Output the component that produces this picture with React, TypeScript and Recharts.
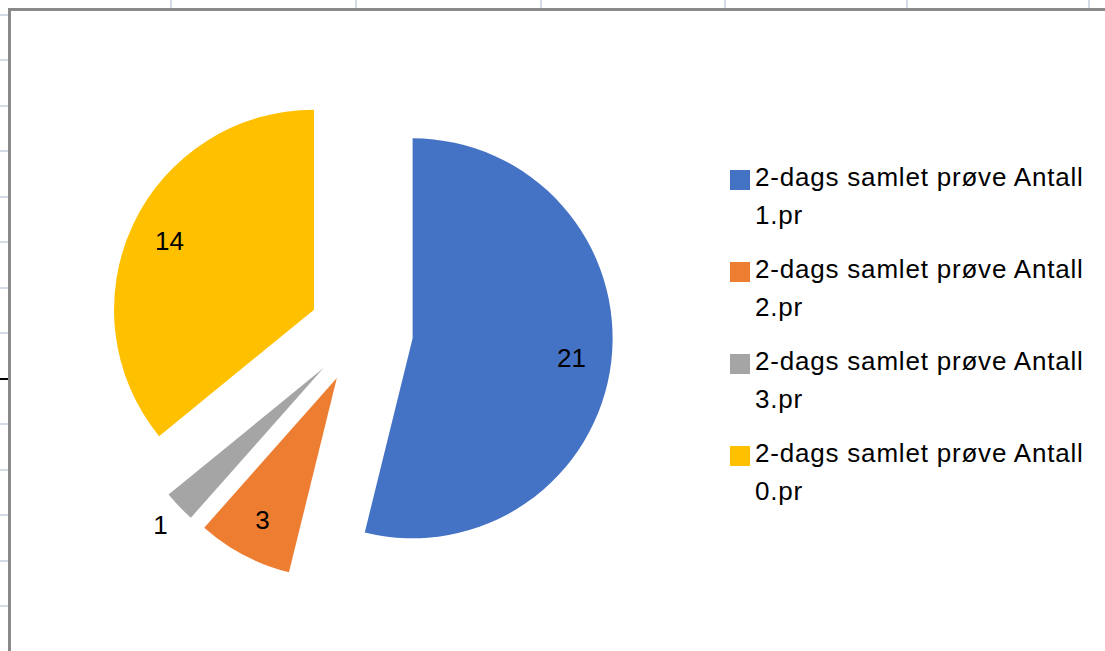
import { PieChart, Pie, Cell, Legend, Sector } from "recharts";

const categories = [
  "2-dags samlet prøve Antall 1.pr",
  "2-dags samlet prøve Antall 2.pr",
  "2-dags samlet prøve Antall 3.pr",
  "2-dags samlet prøve Antall 0.pr",
];
const counts = [21, 3, 1, 14];
const COLORS = ["#4472C4", "#ED7D31", "#A5A5A5", "#FFC000"];

const data = categories.map((name, i) => ({ name, value: counts[i] }));

const FONT = "'Liberation Sans', Arial, sans-serif";
const RAD = Math.PI / 180;
const EXPLODE = 52;

// move a point along an angle (recharts angle convention)
const shift = (cx: number, cy: number, r: number, angle: number) => ({
  x: cx + r * Math.cos(-angle * RAD),
  y: cy + r * Math.sin(-angle * RAD),
});

function ExplodedSector(props: any) {
  const c = shift(props.cx, props.cy, EXPLODE, props.midAngle);
  return <Sector {...props} cx={c.x} cy={c.y} />;
}

function renderLabel(props: any) {
  const { cx, cy, midAngle, outerRadius, percent, value } = props;
  const c = shift(cx, cy, EXPLODE, midAngle);
  // small slices get their label outside, like Excel's best fit
  const p = shift(c.x, c.y, outerRadius * (percent < 0.05 ? 1.13 : 0.8), midAngle);
  return (
    <text x={p.x} y={p.y} textAnchor="middle" dominantBaseline="central"
      fill="#000" fontSize={26} fontFamily={FONT}>
      {value}
    </text>
  );
}

function LegendContent({ payload }: any) {
  // keep the data order, not the sorted one
  const items = [...(payload || [])].sort(
    (a: any, b: any) => categories.indexOf(a.value) - categories.indexOf(b.value)
  );
  return (
    <div style={{ fontFamily: FONT, fontSize: 26, letterSpacing: 0.8, color: "#000" }}>
      {items.map((entry: any, i: number) => {
        const name: string = entry.value;
        const cut = name.lastIndexOf(" ");
        return (
          <div key={i} style={{ display: "flex", alignItems: "flex-start", marginBottom: 16 }}>
            <span style={{ width: 20, height: 20, background: entry.color, marginTop: 12, marginRight: 5, flex: "none" }} />
            <div style={{ lineHeight: "38px", whiteSpace: "nowrap" }}>
              {name.slice(0, cut)}
              <br />
              {name.slice(cut + 1)}
            </div>
          </div>
        );
      })}
    </div>
  );
}

// spreadsheet cells peeking out around the chart object
const colLines = [171, 356, 541, 725, 907, 1089];
const rowLines = [15, 60, 106, 151, 197, 242, 288, 333, 379, 424, 470, 515, 561, 606];

export default function App() {
  return (
    <div style={{ position: "absolute", left: 0, top: 0, width: 1105, height: 651, overflow: "hidden", background: "#fff" }}>
      {colLines.map((x) => (
        <div key={"c" + x} style={{ position: "absolute", left: x - 1, top: 0, width: 2, height: 8, background: "#D4DBE6" }} />
      ))}
      {rowLines.map((y) => (
        <div key={"r" + y} style={{ position: "absolute", left: 0, top: y - 1, width: 8, height: 2, background: y === 379 ? "#000" : "#D4DBE6" }} />
      ))}
      <div style={{ position: "absolute", left: 8, top: 8, width: 1097, height: 643, borderLeft: "3px solid #898989", borderTop: "3px solid #898989", background: "#fff" }}>
        <PieChart width={1094} height={640} margin={{ top: 0, right: 0, bottom: 0, left: 0 }}>
          <Pie
            data={data}
            dataKey="value"
            nameKey="name"
            cx={350}
            cy={321}
            outerRadius={200}
            startAngle={90}
            endAngle={-270}
            stroke="none"
            shape={ExplodedSector}
            label={renderLabel}
            labelLine={false}
            isAnimationActive={false}
          >
            {data.map((_, i) => (
              <Cell key={i} fill={COLORS[i]} />
            ))}
          </Pie>
          <Legend
            layout="vertical"
            align="right"
            verticalAlign="top"
            content={<LegendContent />}
            wrapperStyle={{ left: 719, top: 147, width: 375 }}
          />
        </PieChart>
      </div>
    </div>
  );
}
